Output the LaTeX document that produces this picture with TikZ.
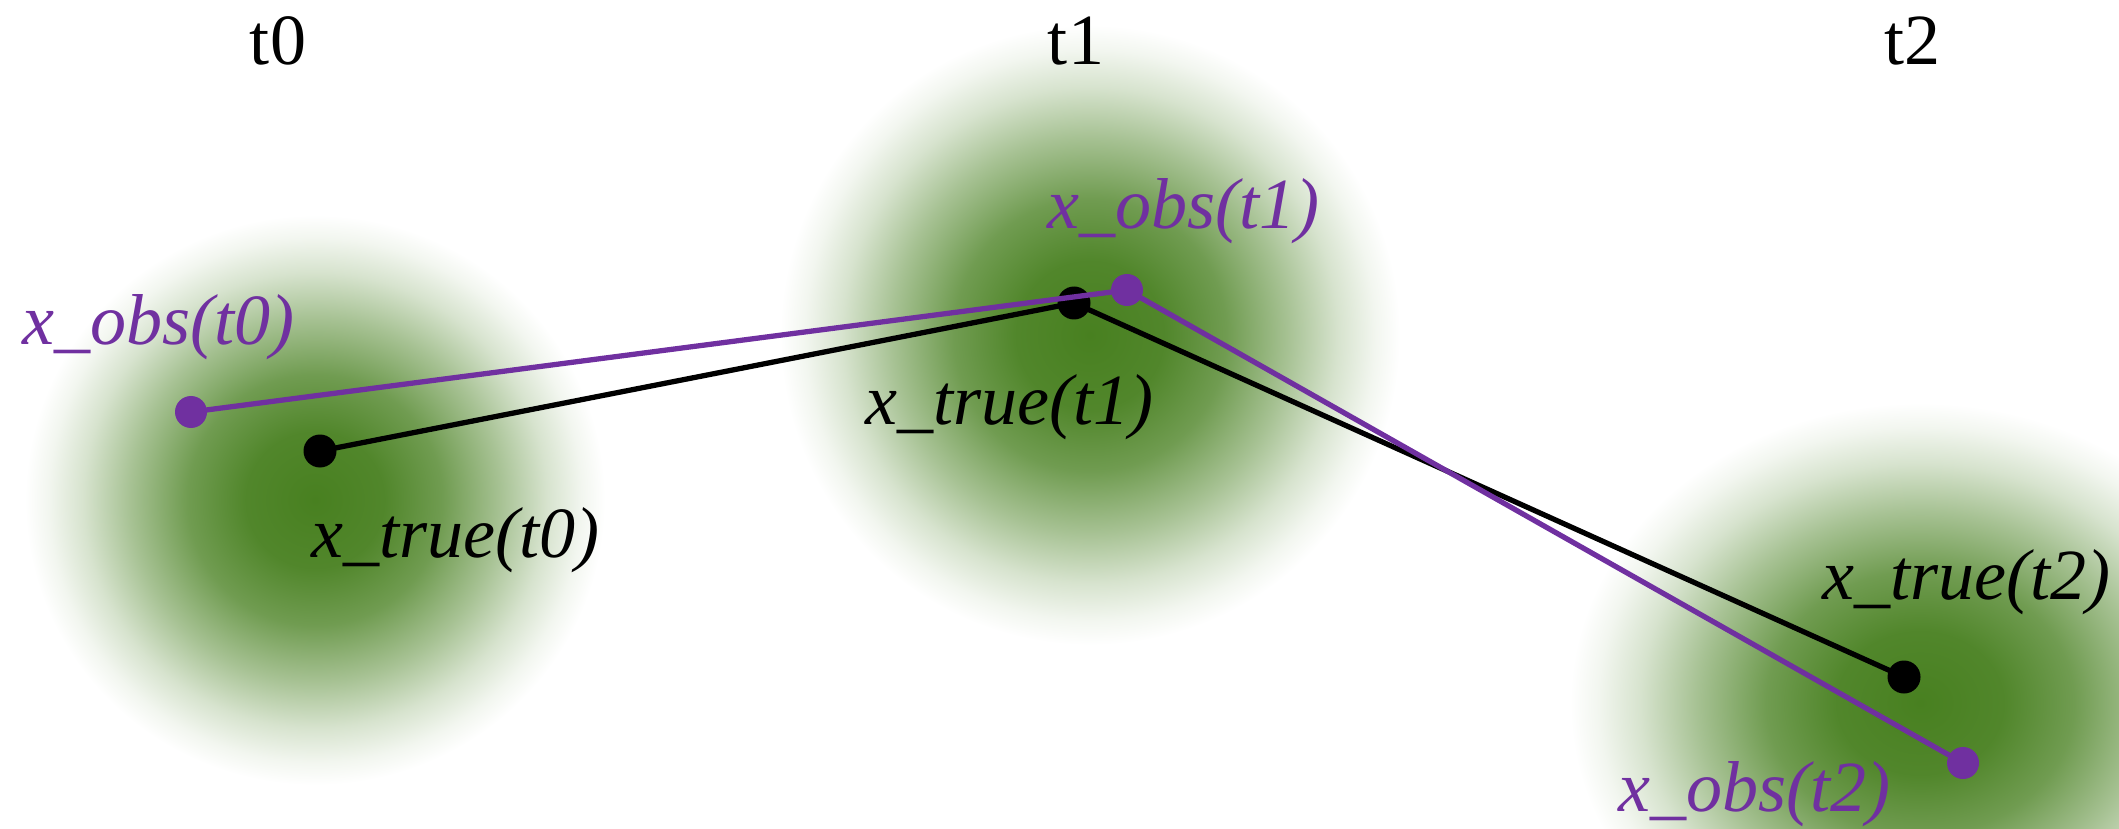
\documentclass[tikz,border=0pt]{standalone}
\usepackage{fontspec}
\setmainfont{Liberation Serif}
\definecolor{obspurple}{RGB}{112,48,160}
\definecolor{blobgreen}{RGB}{72,128,32}
\pgfdeclareradialshading{blobshade}{\pgfpoint{0bp}{0bp}}{color(0bp)=(blobgreen);color(6bp)=(blobgreen!95!white);color(11bp)=(blobgreen!78!white);color(16bp)=(blobgreen!48!white);color(20bp)=(blobgreen!22!white);color(23bp)=(blobgreen!7!white);color(25bp)=(white);color(50bp)=(white)}
\begin{document}
\begin{tikzpicture}[font=\fontsize{20.5}{24}\selectfont]
\tikzstyle{blob}=[shading=blobshade]
\tikzstyle{truedot}=[circle,fill=black,inner sep=0pt,minimum size=0.33cm]
\tikzstyle{obsdot}=[circle,fill=obspurple,inner sep=0pt,minimum size=0.32cm]
\tikzstyle{track}=[draw,line width=1.5pt]
\tikzstyle{lbl}=[inner sep=0pt,anchor=base west,font=\fontsize{20.5}{24}\selectfont\itshape]
\useasboundingbox(0,0)rectangle(21.19,8.28);
% noise around each state
\shade[blob](3.15,3.28)ellipse(2.9 and 2.85);
\shade[blob](10.90,4.93)ellipse(3.1 and 3.1);
\shade[blob](19.20,1.25)ellipse(3.5 and 3.0);
% time steps
\node[anchor=base](t0)at(2.78,7.63){t0};
\node[anchor=base](t1)at(10.76,7.63){t1};
\node[anchor=base](t2)at(19.12,7.63){t2};
% states
\node[truedot](xt0)at(3.20,3.77){};
\node[truedot](xt1)at(10.74,5.25){};
\node[truedot](xt2)at(19.04,1.51){};
\node[obsdot](xo0)at(1.91,4.16){};
\node[obsdot](xo1)at(11.27,5.38){};
\node[obsdot](xo2)at(19.63,0.65){};
\path[track](xt0.center)--(xt1.center)--(xt2.center);
\path[track,obspurple](xo0.center)--(xo1.center)--(xo2.center);
% labels
\node[lbl](lt0)at(3.11,2.71){x\_true(t0)};
\node[lbl](lt1)at(8.65,4.03){x\_true(t1)};
\node[lbl](lt2)at(18.22,2.29){x\_true(t2)};
\node[lbl,obspurple](lo0)at(0.22,4.83){x\_obs(t0)};
\node[lbl,obspurple](lo1)at(10.47,5.99){x\_obs(t1)};
\node[lbl,obspurple](lo2)at(16.18,0.17){x\_obs(t2)};
\end{tikzpicture}
\end{document}
